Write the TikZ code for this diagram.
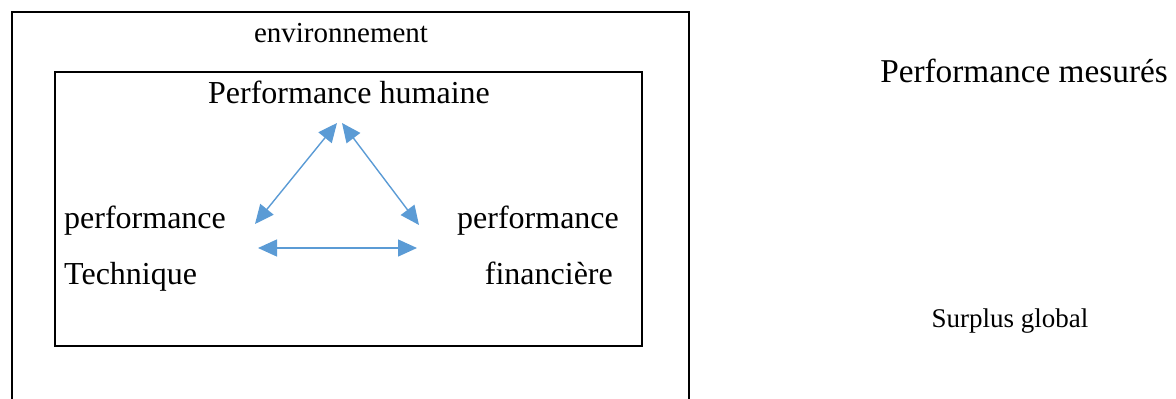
\documentclass[tikz,border=0pt]{standalone}
\usepackage{fontspec}
\setmainfont{Liberation Serif}
\usetikzlibrary{arrows.meta}
\definecolor{arrblue}{HTML}{5B9BD5}
\begin{document}
\begin{tikzpicture}[x=1pt,y=-1pt,
  boxline/.style={line width=2pt,black},
  lbl/.style={inner sep=0pt,font=\fontsize{32}{36}\selectfont},
  link/.style={arrblue,line width=1.4pt,{Triangle[length=19pt,width=17pt]}-{Triangle[length=19pt,width=17pt]}}]
\useasboundingbox (0,0) rectangle (1176,399);
% outer box (bottom edge outside the picture)
\draw[boxline] (12,402) -- (12,12) -- (689,12) -- (689,402);
% inner box
\draw[boxline] (55,72) rectangle (642,346);
\node[inner sep=0pt,font=\fontsize{29}{33}\selectfont,anchor=base] (env) at (341,42) {environnement};
\node[lbl,anchor=base] (hum) at (349,103) {Performance humaine};
\node[lbl,anchor=base west] (tech1) at (64,228) {performance};
\node[lbl,anchor=base west] (tech2) at (64,284) {Technique};
\node[lbl,anchor=base west] (fin1) at (457,228) {performance};
\node[lbl,anchor=base east] (fin2) at (613,284) {financière};
\node[inner sep=0pt,font=\fontsize{33.3}{37}\selectfont,anchor=base east] (mes) at (1168,82) {Performance mesurés};
\node[inner sep=0pt,font=\fontsize{27}{31}\selectfont,anchor=base] (sur) at (1010,327) {Surplus global};
% arrow end points
\coordinate (topL) at (337,123);
\coordinate (topR) at (342,123);
\coordinate (left) at (255,224);
\coordinate (right) at (419,225);
\coordinate (botL) at (258,248);
\coordinate (botR) at (417,248);
\draw[link] (topL) -- (left);
\draw[link] (topR) -- (right);
\draw[link] (botL) -- (botR);
\end{tikzpicture}
\end{document}
